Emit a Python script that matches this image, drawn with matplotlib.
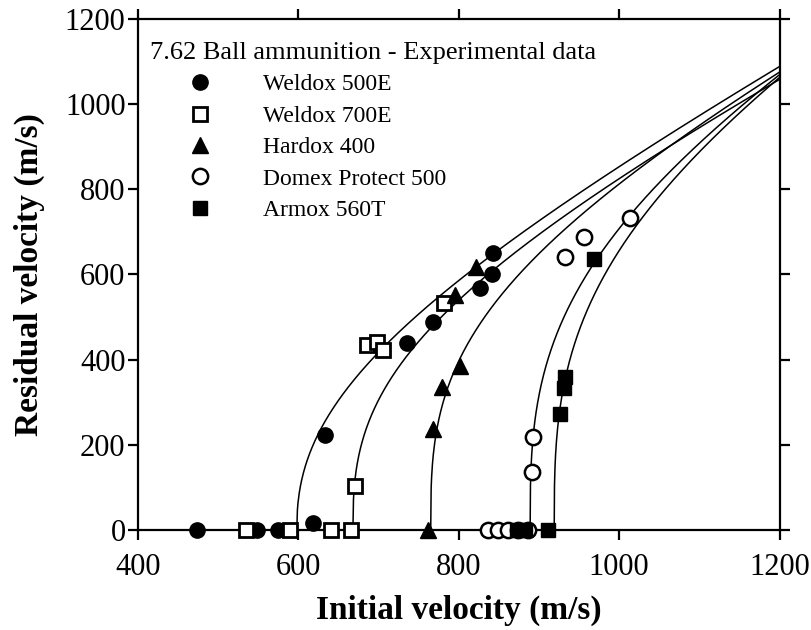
import numpy as np
import matplotlib
matplotlib.use("Agg")
import matplotlib.pyplot as plt

plt.rcParams['font.family'] = ['Liberation Serif', 'DejaVu Serif']

# experimental data (initial velocity, residual velocity)
weldox500_vi = [474, 548, 575, 618, 633, 736, 768, 826, 841, 843]
weldox500_vr = [0, 0, 0, 15, 223, 438, 487, 568, 600, 650]

weldox700_vi = [535, 590, 641, 665, 670, 686, 698, 706, 781]
weldox700_vr = [0, 0, 0, 0, 104, 433, 442, 423, 532]

hardox_vi = [762, 768, 779, 801, 795, 821]
hardox_vr = [0, 237, 336, 385, 552, 617]

domex_vi = [837, 849, 862, 874, 886, 891, 893, 933, 956, 1014]
domex_vr = [0, 0, 0, 0, 0, 135, 217, 640, 688, 733]

armox_vi = [872, 883, 911, 926, 931, 933, 969]
armox_vr = [0, 0, 0, 272, 332, 360, 635]

# Recht-Ipson type curves: ballistic limit, a, p
curve_vbl = [598, 668, 765, 889, 919]
curve_a = [1.0, 0.96, 0.99, 1.06, 1.08]
curve_p = [2.3, 2.7, 3.0, 3.0, 3.0]

fig = plt.figure(figsize=(8.12, 6.30), dpi=100)
ax = fig.add_axes([0.170, 0.159, 0.790, 0.811])

for vbl, a, p in zip(curve_vbl, curve_a, curve_p):
    vi = np.linspace(vbl, 1200, 800)
    vr = a * (vi**p - vbl**p) ** (1.0 / p)
    ax.plot(vi, vr, color='black', lw=1.1, zorder=2)

ms = 11
ax.plot(weldox500_vi, weldox500_vr, 'o', color='black', ms=ms, clip_on=False,
        zorder=5, label='Weldox 500E')
ax.plot(weldox700_vi, weldox700_vr, 's', mfc='white', mec='black', mew=2.0, ms=9.5,
        clip_on=False, zorder=5, label='Weldox 700E')
ax.plot(hardox_vi, hardox_vr, '^', color='black', ms=ms, clip_on=False,
        zorder=5, label='Hardox 400')
ax.plot(domex_vi, domex_vr, 'o', mfc='white', mec='black', mew=1.8, ms=ms,
        clip_on=False, zorder=5, label='Domex Protect 500')
ax.plot(armox_vi, armox_vr, 's', color='black', ms=10, clip_on=False,
        zorder=5, label='Armox 560T')

ax.set_xlim(400, 1200)
ax.set_ylim(0, 1200)
ax.set_xticks([400, 600, 800, 1000, 1200])
ax.set_yticks([0, 200, 400, 600, 800, 1000, 1200])
ax.tick_params(direction='out', length=7, width=1.6, labelsize=22,
               top=True, right=True)
ax.tick_params(axis='x', pad=10)
ax.tick_params(axis='y', pad=2)
for s in ax.spines.values():
    s.set_linewidth(1.6)

ax.set_xlabel('Initial velocity (m/s)', fontsize=24, fontweight='bold', labelpad=9)
ax.set_ylabel('Residual velocity (m/s)', fontsize=24, fontweight='bold', labelpad=14)

leg = ax.legend(title='7.62 Ball ammunition - Experimental data', loc='upper left',
                bbox_to_anchor=(0.019, 0.955), frameon=False, fontsize=17,
                title_fontsize=19, alignment='left', handlelength=4.24,
                handletextpad=0.55, labelspacing=0.42, borderaxespad=0,
                borderpad=0)

fig.savefig('out.png', dpi=100)
